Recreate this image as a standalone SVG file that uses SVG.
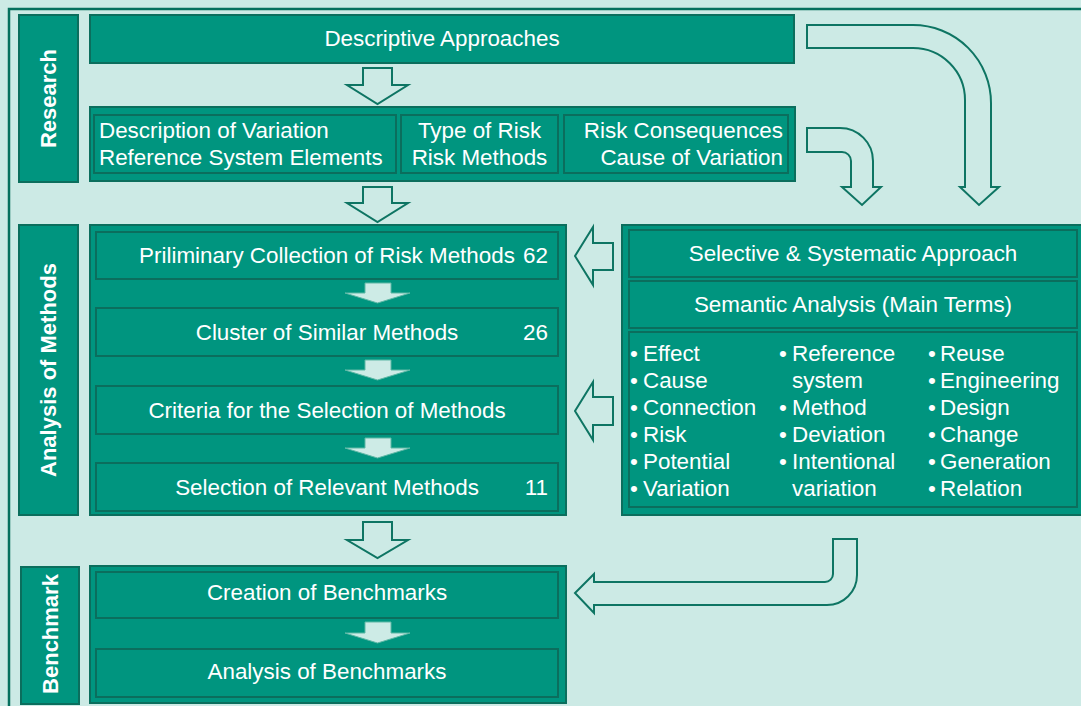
<svg xmlns="http://www.w3.org/2000/svg" width="1081" height="706" viewBox="0 0 1081 706">
  <defs>
    <style>
      .bg { fill: #CCEAE5; }
      .frame { fill: none; stroke: #06705E; stroke-width: 2.5; }
      .box { fill: #00957F; stroke: #0B6E5D; stroke-width: 2; }
      .lbl { fill: #00957F; stroke: #0B6E5D; stroke-width: 2; }
      .t { font-family: "Liberation Sans", Arial, sans-serif; font-size: 22.4px; fill: #FFFFFF; }
      .c { text-anchor: middle; }
      .r { text-anchor: end; }
      .v { font-family: "Liberation Sans", Arial, sans-serif; font-size: 22px; font-weight: bold; fill: #FFFFFF; text-anchor: middle; dominant-baseline: central; }
      .hollow { fill: #CCEAE5; stroke: #0E7563; stroke-width: 2; stroke-linejoin: miter; }
      .step { fill: #CDEBE6; stroke: #5FB8A6; stroke-width: 1; }
    </style>
  </defs>

  <!-- canvas and outer frame -->
  <rect class="bg" x="0" y="0" width="1081" height="706"/>
  <rect class="frame" x="9" y="9" width="1085" height="710"/>

  <!-- phase labels -->
  <g id="label-research">
    <rect class="lbl" x="19" y="15" width="59" height="167"/>
    <text class="v" transform="translate(48.5,98.5) rotate(-90)">Research</text>
  </g>
  <g id="label-analysis">
    <rect class="lbl" x="19" y="225" width="59" height="290"/>
    <text class="v" transform="translate(48.5,370) rotate(-90)">Analysis of Methods</text>
  </g>
  <g id="label-benchmark">
    <rect class="lbl" x="21" y="567" width="58" height="137"/>
    <text class="v" transform="translate(50,634) rotate(-90)">Benchmark</text>
  </g>

  <!-- research phase -->
  <g id="descriptive-approaches">
    <rect class="box" x="90" y="15" width="704" height="48"/>
    <text class="t c" x="442" y="46">Descriptive Approaches</text>
  </g>
  <g id="research-topics">
    <rect class="box" x="90" y="107" width="705" height="74"/>
    <g id="topic-variation">
      <rect class="box" x="94" y="115" width="302" height="58"/>
      <text class="t" x="99" y="138">Description of Variation</text>
      <text class="t" x="99" y="165">Reference System Elements</text>
    </g>
    <g id="topic-risk">
      <rect class="box" x="401" y="115" width="157" height="58"/>
      <text class="t c" x="479.5" y="138">Type of Risk</text>
      <text class="t c" x="479.5" y="165">Risk Methods</text>
    </g>
    <g id="topic-consequences">
      <rect class="box" x="564" y="115" width="224" height="58"/>
      <text class="t r" x="783" y="138">Risk Consequences</text>
      <text class="t r" x="783" y="165">Cause of Variation</text>
    </g>
  </g>

  <!-- analysis of methods -->
  <g id="method-pipeline">
    <rect class="box" x="90" y="225" width="476" height="290"/>
    <g id="step-collection">
      <rect class="box" x="96" y="232" width="462" height="47"/>
      <text class="t c" x="327" y="263">Priliminary Collection of Risk Methods</text>
      <text class="t r" x="548" y="263">62</text>
    </g>
    <g id="step-cluster">
      <rect class="box" x="96" y="308" width="462" height="48"/>
      <text class="t c" x="327" y="340">Cluster of Similar Methods</text>
      <text class="t r" x="548" y="340">26</text>
    </g>
    <g id="step-criteria">
      <rect class="box" x="96" y="386" width="462" height="48"/>
      <text class="t c" x="327" y="418">Criteria for the Selection of Methods</text>
    </g>
    <g id="step-selection">
      <rect class="box" x="96" y="463" width="462" height="48"/>
      <text class="t c" x="327" y="495">Selection of Relevant Methods</text>
      <text class="t r" x="548" y="495">11</text>
    </g>
  </g>

  <!-- selective approach and semantic terms -->
  <g id="semantic-panel">
    <rect class="box" x="622" y="225" width="470" height="290"/>
    <g id="selective-approach">
      <rect class="box" x="629" y="230" width="448" height="47"/>
      <text class="t c" x="853" y="261">Selective &amp; Systematic Approach</text>
    </g>
    <g id="semantic-analysis">
      <rect class="box" x="629" y="281" width="448" height="47"/>
      <text class="t c" x="853" y="312">Semantic Analysis (Main Terms)</text>
    </g>
    <g id="main-terms">
      <rect class="box" x="629" y="332" width="448" height="175"/>
      <g id="terms-col1">
        <text class="t" x="630" y="361">•</text><text class="t" x="643" y="361">Effect</text>
        <text class="t" x="630" y="388">•</text><text class="t" x="643" y="388">Cause</text>
        <text class="t" x="630" y="415">•</text><text class="t" x="643" y="415">Connection</text>
        <text class="t" x="630" y="442">•</text><text class="t" x="643" y="442">Risk</text>
        <text class="t" x="630" y="469">•</text><text class="t" x="643" y="469">Potential</text>
        <text class="t" x="630" y="496">•</text><text class="t" x="643" y="496">Variation</text>
      </g>
      <g id="terms-col2">
        <text class="t" x="779" y="361">•</text><text class="t" x="792" y="361">Reference</text>
        <text class="t" x="792" y="388">system</text>
        <text class="t" x="779" y="415">•</text><text class="t" x="792" y="415">Method</text>
        <text class="t" x="779" y="442">•</text><text class="t" x="792" y="442">Deviation</text>
        <text class="t" x="779" y="469">•</text><text class="t" x="792" y="469">Intentional</text>
        <text class="t" x="792" y="496">variation</text>
      </g>
      <g id="terms-col3">
        <text class="t" x="928" y="361">•</text><text class="t" x="940" y="361">Reuse</text>
        <text class="t" x="928" y="388">•</text><text class="t" x="940" y="388">Engineering</text>
        <text class="t" x="928" y="415">•</text><text class="t" x="940" y="415">Design</text>
        <text class="t" x="928" y="442">•</text><text class="t" x="940" y="442">Change</text>
        <text class="t" x="928" y="469">•</text><text class="t" x="940" y="469">Generation</text>
        <text class="t" x="928" y="496">•</text><text class="t" x="940" y="496">Relation</text>
      </g>
    </g>
  </g>

  <!-- benchmark phase -->
  <g id="benchmark-steps">
    <rect class="box" x="90" y="566" width="476" height="137"/>
    <g id="step-creation">
      <rect class="box" x="96" y="572" width="462" height="46"/>
      <text class="t c" x="327" y="600">Creation of Benchmarks</text>
    </g>
    <g id="step-benchmark-analysis">
      <rect class="box" x="96" y="649" width="462" height="48"/>
      <text class="t c" x="327" y="679">Analysis of Benchmarks</text>
    </g>
  </g>

  <!-- connectors -->
  <g id="connectors">
    <!-- block arrows between phases -->
    <path class="hollow" d="M363,68 H392 V85 H408 L377.5,104 L347,85 H363 Z"/>
    <path class="hollow" d="M363,187 H392 V203 H408 L377.5,222 L347,203 H363 Z"/>
    <path class="hollow" d="M363,522 H392 V540 H408 L377.5,558 L347,540 H363 Z"/>

    <!-- curved arrows from research to the selective approach -->
    <path class="hollow" d="M807,25 H913 A78,78 0 0 1 991,103 V187 H999 L979,205 L960,187 H965 V100 A52,52 0 0 0 913,48 H807 Z"/>
    <path class="hollow" d="M807,128 H840 A33,33 0 0 1 873,161 V187 H881 L862,205 L842,187 H851 V161 A9,9 0 0 0 842,152 H807 Z"/>

    <!-- arrows from the semantic panel into the pipeline -->
    <path class="hollow" d="M613,243 V270 H593 V285 L575,256 L593,227 V243 Z"/>
    <path class="hollow" d="M613,397 V425 H593 V440 L575,411 L593,382 V397 Z"/>

    <!-- return arrow to benchmark creation -->
    <path class="hollow" d="M833,539 H857 V575 A30,30 0 0 1 827,605 H594 V613 L575,593 L594,574 V582 H825 A8,8 0 0 0 833,574 Z"/>

    <!-- step arrows inside the panels -->
    <path class="step" d="M365,283 H391 V293 H410 L377.5,303 L345,293 H365 Z"/>
    <path class="step" d="M365,360 H391 V370 H410 L377.5,380 L345,370 H365 Z"/>
    <path class="step" d="M365,438 H391 V448 H410 L377.5,458 L345,448 H365 Z"/>
    <path class="step" d="M365,622 H391 V633 H410 L377.5,643 L345,633 H365 Z"/>
  </g>
</svg>
